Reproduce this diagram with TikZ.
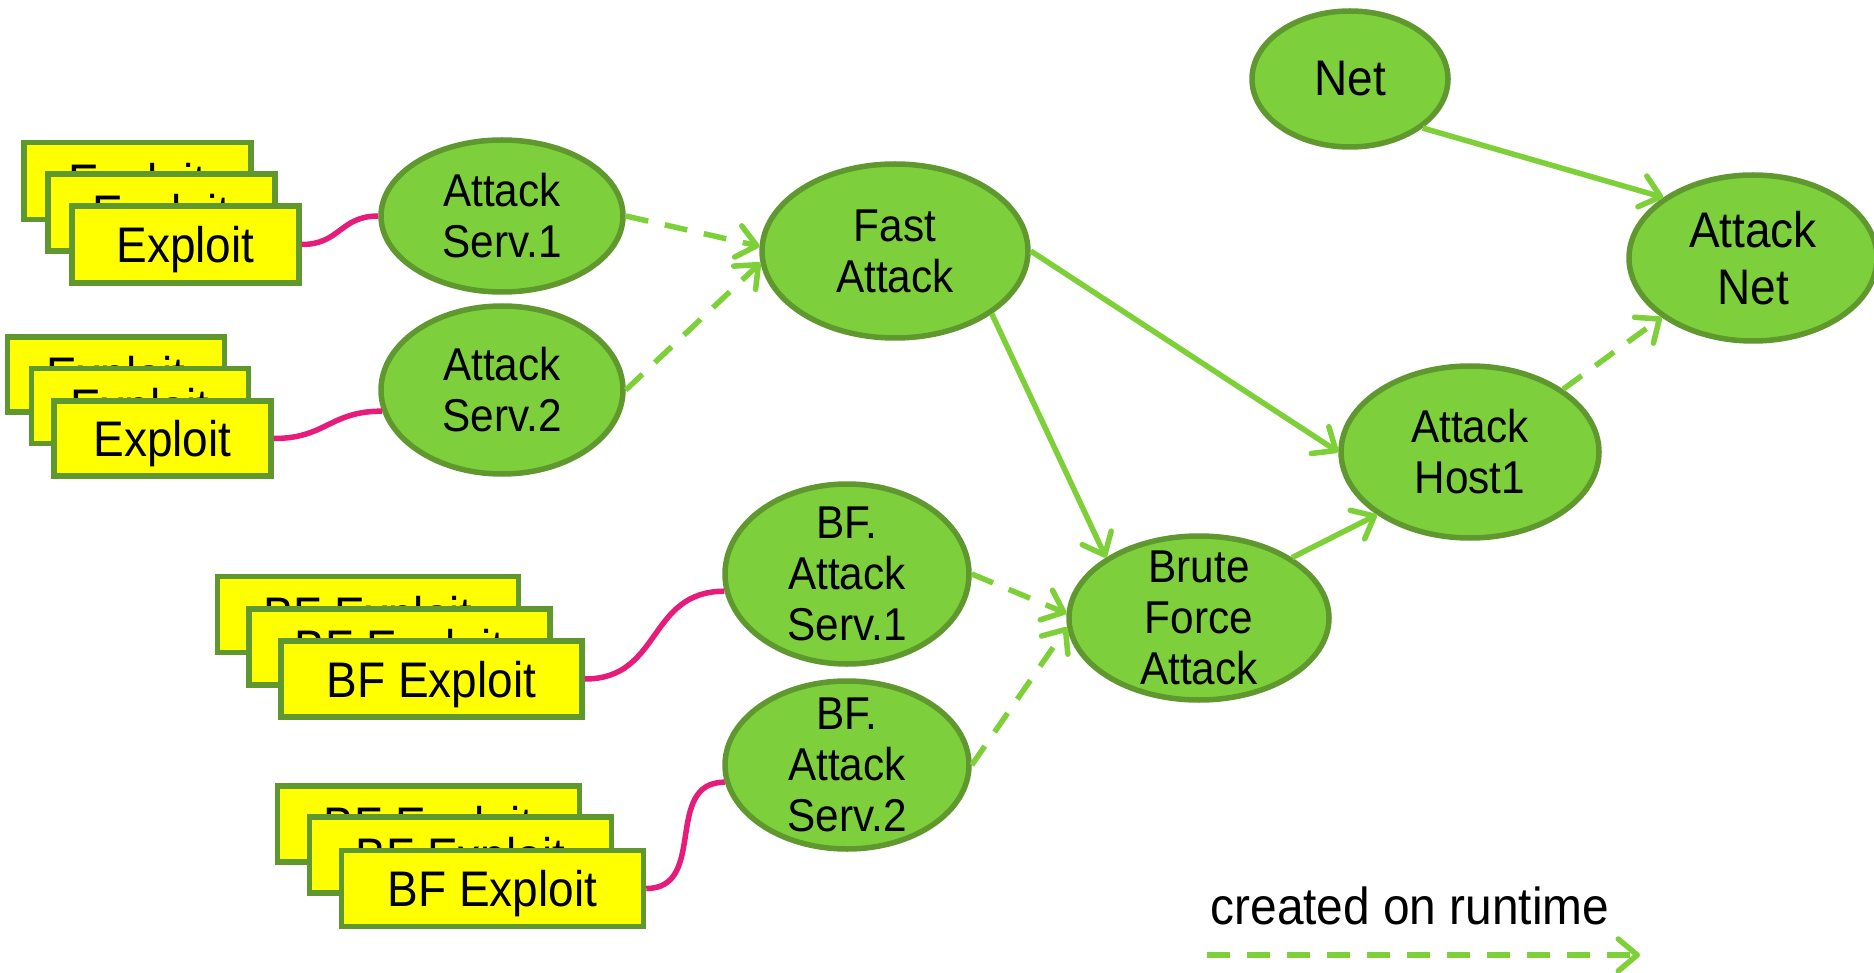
\documentclass[tikz,border=0pt]{standalone}
\usepackage{fontspec}
\setmainfont{Liberation Sans}[FakeStretch=0.92]
\usetikzlibrary{shapes.geometric,arrows.meta}
\definecolor{nodegreen}{RGB}{126,207,60}
\definecolor{rimgreen}{RGB}{95,152,46}
\definecolor{linkgreen}{RGB}{126,208,56}
\definecolor{boxyellow}{RGB}{255,255,0}
\definecolor{linkpink}{RGB}{231,28,122}

\begin{document}
\begin{tikzpicture}[x=1pt,y=-1pt,
  state/.style={ellipse, draw=rimgreen, fill=nodegreen, line width=5.5pt, inner sep=0pt},
  statetext/.style={align=center, inner sep=0pt, font=\fontsize{46}{51}\selectfont},
  bigtext/.style={align=center, inner sep=0pt, font=\fontsize{50}{57}\selectfont},
  card/.style={rectangle, draw=rimgreen, fill=boxyellow, line width=5.5pt, inner sep=0pt,
    text depth=0pt, font=\fontsize{50}{57}\selectfont},
  link/.style={draw=linkgreen, line width=5.5pt, -{Straight Barb[length=19pt,width=32pt,round]}},
  spawn/.style={link, dash pattern=on 23pt off 17pt},
  tie/.style={draw=linkpink, line width=5.5pt, looseness=1.2},
]
\useasboundingbox (0,0) rectangle (1874,973);

% exploit card stacks
\node[card, minimum width=227, minimum height=77] (ex1a) at (137.5,181) {Exploit};
\node[card, minimum width=227, minimum height=77] (ex1b) at (161.5,212.5) {Exploit};
\node[card, minimum width=227, minimum height=77] (ex1c) at (185.5,244.5) {Exploit};

\node[card, minimum width=217, minimum height=75] (ex2a) at (116,374.5) {Exploit};
\node[card, minimum width=217, minimum height=75] (ex2b) at (140,406) {Exploit};
\node[card, minimum width=217, minimum height=75] (ex2c) at (162.5,438.5) {Exploit};

\node[card, minimum width=301, minimum height=76] (bx1a) at (368,614.5) {BF Exploit};
\node[card, minimum width=301, minimum height=76] (bx1b) at (399.5,647) {BF Exploit};
\node[card, minimum width=301, minimum height=76] (bx1c) at (431.5,679) {BF Exploit};

\node[card, minimum width=302, minimum height=76] (bx2a) at (428.5,824) {BF Exploit};
\node[card, minimum width=302, minimum height=76] (bx2b) at (460.5,855) {BF Exploit};
\node[card, minimum width=302, minimum height=76] (bx2c) at (492.5,888.5) {BF Exploit};

% attack states
\node[state, minimum width=242, minimum height=152,
  label={[statetext]center:Attack\\Serv.1}] (as1) at (502,216) {};
\node[state, minimum width=242, minimum height=168,
  label={[statetext]center:Attack\\Serv.2}] (as2) at (502,390) {};
\node[state, minimum width=266, minimum height=174,
  label={[statetext]center:Fast\\Attack}] (fast) at (895,251) {};
\node[state, minimum width=244, minimum height=180,
  label={[statetext]center:BF.\\Attack\\Serv.1}] (bf1) at (847,574) {};
\node[state, minimum width=244, minimum height=168,
  label={[statetext]center:BF.\\Attack\\Serv.2}] (bf2) at (847,765) {};
\node[state, minimum width=260, minimum height=164,
  label={[statetext]center:Brute\\Force\\Attack}] (brute) at (1199,618) {};
\node[state, minimum width=258, minimum height=172,
  label={[statetext]center:Attack\\Host1}] (host) at (1470,452) {};
\node[state, minimum width=196, minimum height=136,
  label={[bigtext]center:Net}] (net) at (1350,79) {};
\node[state, minimum width=248, minimum height=166,
  label={[bigtext]center:Attack\\Net}] (anet) at (1753,258) {};

% exploits bound to their services
\draw[tie] (ex1c.east) to[out=0,in=180] (as1.west);
\draw[tie] (ex2c.east) to[out=0,in=180] (as2.190);
\draw[tie] (bx1c.east) to[out=0,in=180] (bf1.188);
\draw[tie] (bx2c.east) to[out=0,in=180] (bf2.188);

% transitions created on runtime
\draw[spawn] (as1.east) -- (fast.178);
\draw[spawn] (as2.east) -- (fast.185);
\draw[spawn] (bf1.east) -- (brute.178);
\draw[spawn] (bf2.east) -- (brute.184);
\draw[spawn] (host.34) -- (anet.213);

% static transitions
\draw[link] (fast.east) -- (host.west);
\draw[link] (fast.327) -- (brute.147);
\draw[link] (brute.33) -- (host.214);
\draw[link] (net.326) -- (anet.146);

% legend
\node[inner sep=0pt, font=\fontsize{52}{60}\selectfont] (legend) at (1410,906) {created on runtime};
\coordinate (lgA) at (1207,955);
\coordinate (lgB) at (1640,955);
\draw[spawn] (lgA) -- (lgB);
\end{tikzpicture}
\end{document}
